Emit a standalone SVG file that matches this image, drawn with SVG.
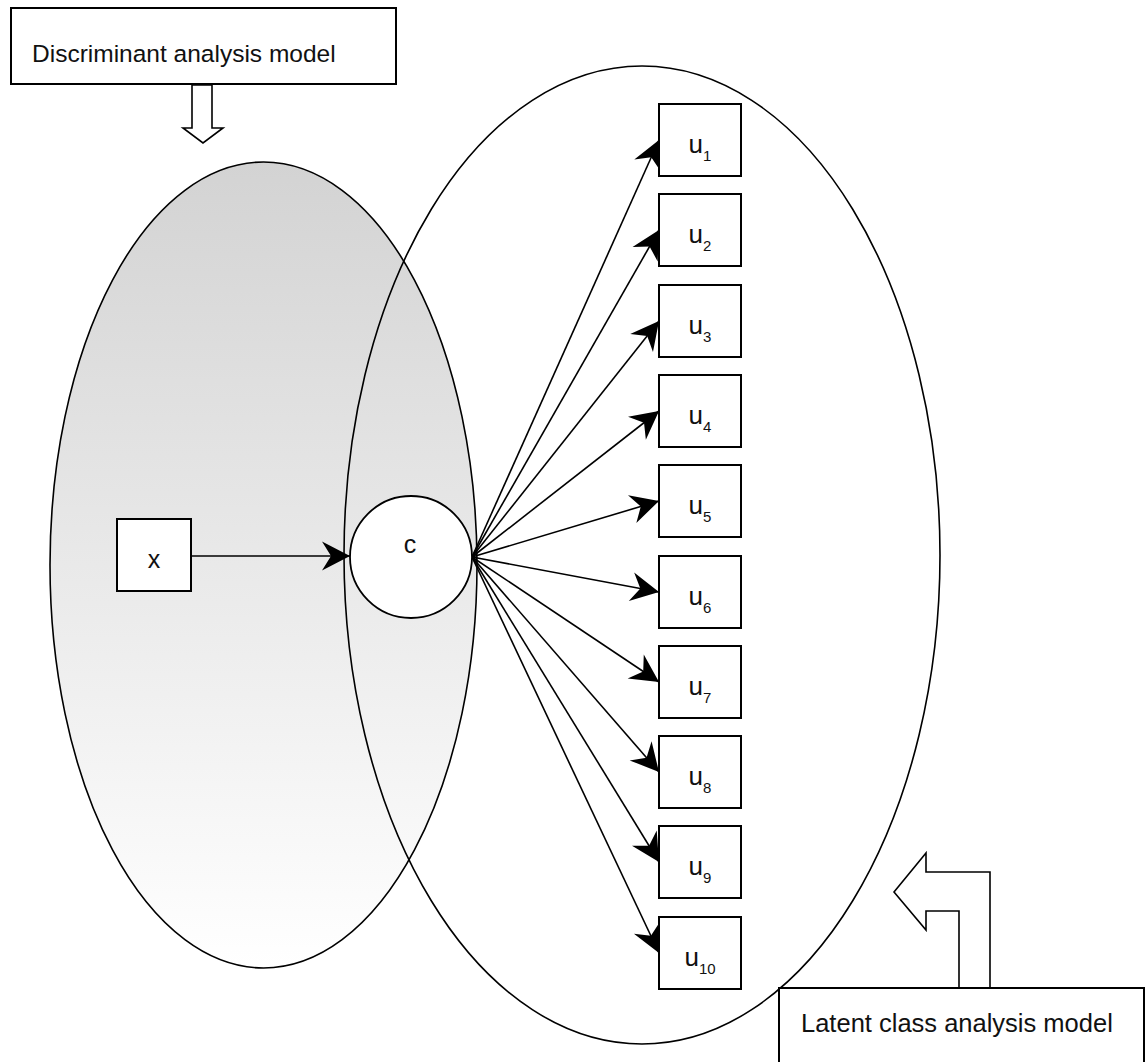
<svg xmlns="http://www.w3.org/2000/svg" width="1148" height="1062" viewBox="0 0 1148 1062">
<style>
.box{fill:#fff;stroke:#000;stroke-width:2}
.ell{stroke:#000;stroke-width:1.6}
.lbl{font-family:"Liberation Sans",Arial,sans-serif;fill:#111}
.edge{stroke:#000;stroke-width:1.6;fill:none;marker-end:url(#ah)}
.blk{fill:#fff;stroke:#000;stroke-width:1.6}
</style>
<defs>
<linearGradient id="g1" x1="0" y1="0" x2="0" y2="1">
<stop offset="0" stop-color="#d3d3d3"/>
<stop offset="1" stop-color="#ffffff"/>
</linearGradient>
<marker id="ah" markerUnits="userSpaceOnUse" viewBox="-30 -16 32 32" markerWidth="32" markerHeight="32" refX="0" refY="0" orient="auto">
<path d="M0,0 L-28,-14.5 L-19,0 L-28,14.5 Z" fill="#000"/>
</marker>
</defs>
<rect width="1148" height="1062" fill="#fff"/>
<g id="discriminant-region">
<ellipse class="ell" cx="263.5" cy="565" rx="213.5" ry="403" fill="url(#g1)"/>
</g>
<g id="latent-region">
<ellipse class="ell" cx="642" cy="555" rx="298" ry="489" fill="none"/>
</g>
<g id="discriminant-label">
<rect class="box" x="11" y="8" width="385" height="76"/>
<text class="lbl" x="32" y="62" font-size="24.5">Discriminant analysis model</text>
<polygon class="blk" points="192,85 212,85 212,128 223,128 203,143 183,128 192,128"/>
</g>
<g id="latent-label">
<polygon class="blk" points="894,892 926,853 926,872 990,872 990,988 959,988 959,911 926,911 926,930"/>
<rect class="box" x="779" y="988" width="365" height="90"/>
<text class="lbl" x="801" y="1032" font-size="25.5">Latent class analysis model</text>
</g>
<g id="connectors">
<line class="edge" x1="191" y1="556" x2="350" y2="556"/>
<line class="edge" x1="472" y1="557" x2="659" y2="140"/>
<line class="edge" x1="472" y1="557" x2="659" y2="230"/>
<line class="edge" x1="472" y1="557" x2="659" y2="321"/>
<line class="edge" x1="472" y1="557" x2="659" y2="411"/>
<line class="edge" x1="472" y1="557" x2="659" y2="501"/>
<line class="edge" x1="472" y1="557" x2="659" y2="592"/>
<line class="edge" x1="472" y1="557" x2="659" y2="682"/>
<line class="edge" x1="472" y1="557" x2="659" y2="772"/>
<line class="edge" x1="472" y1="557" x2="659" y2="862"/>
<line class="edge" x1="472" y1="557" x2="659" y2="953"/>
</g>
<g id="node-x">
<rect class="box" x="117" y="519" width="74" height="72"/>
<text class="lbl" x="154" y="568" font-size="25" text-anchor="middle">x</text>
</g>
<g id="node-c">
<circle cx="411" cy="557" r="61" fill="#fff" stroke="#000" stroke-width="1.8"/>
<text class="lbl" x="410" y="553" font-size="25" text-anchor="middle">c</text>
</g>
<g id="node-u1"><rect class="box" x="659" y="104" width="82" height="72"/><text class="lbl" x="700" y="153" font-size="26" text-anchor="middle">u<tspan font-size="15" dy="8">1</tspan></text></g>
<g id="node-u2"><rect class="box" x="659" y="194" width="82" height="72"/><text class="lbl" x="700" y="243" font-size="26" text-anchor="middle">u<tspan font-size="15" dy="8">2</tspan></text></g>
<g id="node-u3"><rect class="box" x="659" y="285" width="82" height="72"/><text class="lbl" x="700" y="334" font-size="26" text-anchor="middle">u<tspan font-size="15" dy="8">3</tspan></text></g>
<g id="node-u4"><rect class="box" x="659" y="375" width="82" height="72"/><text class="lbl" x="700" y="424" font-size="26" text-anchor="middle">u<tspan font-size="15" dy="8">4</tspan></text></g>
<g id="node-u5"><rect class="box" x="659" y="465" width="82" height="72"/><text class="lbl" x="700" y="514" font-size="26" text-anchor="middle">u<tspan font-size="15" dy="8">5</tspan></text></g>
<g id="node-u6"><rect class="box" x="659" y="556" width="82" height="72"/><text class="lbl" x="700" y="605" font-size="26" text-anchor="middle">u<tspan font-size="15" dy="8">6</tspan></text></g>
<g id="node-u7"><rect class="box" x="659" y="646" width="82" height="72"/><text class="lbl" x="700" y="695" font-size="26" text-anchor="middle">u<tspan font-size="15" dy="8">7</tspan></text></g>
<g id="node-u8"><rect class="box" x="659" y="736" width="82" height="72"/><text class="lbl" x="700" y="785" font-size="26" text-anchor="middle">u<tspan font-size="15" dy="8">8</tspan></text></g>
<g id="node-u9"><rect class="box" x="659" y="826" width="82" height="72"/><text class="lbl" x="700" y="875" font-size="26" text-anchor="middle">u<tspan font-size="15" dy="8">9</tspan></text></g>
<g id="node-u10"><rect class="box" x="659" y="917" width="82" height="72"/><text class="lbl" x="700" y="966" font-size="26" text-anchor="middle">u<tspan font-size="15" dy="8">10</tspan></text></g>
</svg>
